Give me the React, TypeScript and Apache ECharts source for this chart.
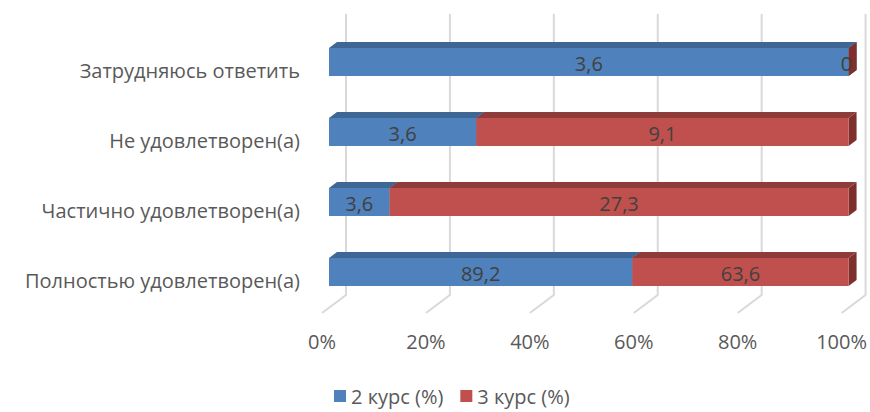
import React, { useEffect, useRef } from "react";
import * as echarts from "echarts";

const categories = [
  "Полностью удовлетворен(а)",
  "Частично удовлетворен(а)",
  "Не удовлетворен(а)",
  "Затрудняюсь ответить",
];
const course2 = [89.2, 3.6, 3.6, 3.6];
const course3 = [63.6, 27.3, 9.1, 0];
const seriesNames = ["2 курс (%)", "3 курс (%)"];
const xTicks = [0, 20, 40, 60, 80, 100];

const FONT = "'Open Sans', 'Noto Sans', sans-serif";
const DX = 8;
const DY = 6;
const BAR_H = 28;
const BAR_SHIFT = 7;

function fmt(v: number) {
  return String(v).replace(".", ",");
}

function buildData(which: number) {
  return categories.map((_, i) => {
    const total = course2[i] + course3[i];
    const p2 = (course2[i] / total) * 100;
    if (which === 0) return [i, 0, p2, course2[i]];
    return [i, p2, 100, course3[i]];
  });
}

const colors = [
  { front: "#4f81bd", top: "#3e6795", side: "#37598a" },
  { front: "#c0504d", top: "#8f3b39", side: "#7f302e" },
];

function makeRender(which: number) {
  return (params: any, api: any) => {
    const cat = api.value(0);
    const s = api.value(1);
    const e = api.value(2);
    const raw = api.value(3);
    const pS = api.coord([s, cat]);
    const pE = api.coord([e, cat]);
    const x0 = pS[0] + BAR_SHIFT;
    const x1 = pE[0] + BAR_SHIFT;
    const yc = pS[1];
    const top = yc - BAR_H / 2;
    const bottom = yc + BAR_H / 2;
    const c = colors[which];
    const labelX = x1 - x0 < 1 ? x0 - 2 : (x0 + x1) / 2;
    return {
      type: "group",
      children: [
        {
          type: "polygon",
          shape: {
            points: [
              [x1, top],
              [x1 + DX, top - DY],
              [x1 + DX, bottom - DY],
              [x1, bottom],
            ],
          },
          style: { fill: c.side },
        },
        {
          type: "rect",
          shape: { x: x0, y: top, width: Math.max(0, x1 - x0), height: BAR_H },
          style: { fill: c.front },
        },
        {
          type: "polygon",
          shape: {
            points: [
              [x0, top],
              [x0 + DX, top - DY],
              [x1 + DX, top - DY],
              [x1, top],
            ],
          },
          style: { fill: c.top },
        },
        {
          type: "text",
          z2: 10,
          style: {
            x: labelX,
            y: yc + 1,
            text: fmt(raw),
            align: "center",
            verticalAlign: "middle",
            fill: "#404040",
            font: `20px ${FONT}`,
          },
        },
      ],
    };
  };
}

function gridRender(params: any, api: any) {
  const v = api.value(0);
  const cs = params.coordSys;
  const x = api.coord([v, 0])[0];
  const bottom = cs.y + cs.height;
  return {
    type: "polyline",
    shape: {
      points: [
        [x + 24, cs.y - 13],
        [x + 24, bottom - 12],
        [x, bottom + 6],
      ],
    },
    style: { stroke: "#d9d9d9", lineWidth: 2, fill: "none" },
    silent: true,
  };
}

export default function App() {
  const ref = useRef<HTMLDivElement>(null);
  useEffect(() => {
    if (!ref.current) return;
    const chart = echarts.init(ref.current, null, { renderer: "svg" });
    chart.setOption({
      animation: false,
      backgroundColor: "#ffffff",
      textStyle: { fontFamily: FONT },
      grid: { left: 322, right: 27, top: 27, height: 280 },
      xAxis: {
        type: "value",
        min: 0,
        max: 100,
        interval: 20,
        axisLine: { show: false },
        axisTick: { show: false },
        splitLine: { show: false },
        axisLabel: {
          formatter: (v: number) => `${v}%`,
          color: "#595959",
          fontSize: 20,
          fontFamily: FONT,
          margin: 24,
        },
      },
      yAxis: {
        type: "category",
        data: categories,
        axisLine: { show: false },
        axisTick: { show: false },
        splitLine: { show: false },
        axisLabel: {
          color: "#595959",
          fontSize: 20,
          fontFamily: FONT,
          margin: 22,
          verticalAlign: "top",
          lineHeight: 16,
        },
      },
      legend: {
        top: 381,
        left: 329,
        itemWidth: 12,
        itemHeight: 12,
        itemGap: 17,
        icon: "rect",
        textStyle: { color: "#595959", fontSize: 20, fontFamily: FONT },
        data: seriesNames,
      },
      series: [
        {
          type: "custom",
          name: "grid",
          silent: true,
          renderItem: gridRender,
          data: xTicks.map((t) => [t]),
          encode: { x: 0 },
          z: 0,
        },
        {
          type: "custom",
          name: seriesNames[0],
          itemStyle: { color: colors[0].front },
          renderItem: makeRender(0),
          data: buildData(0),
          encode: { x: [1, 2], y: 0 },
          z: 2,
        },
        {
          type: "custom",
          name: seriesNames[1],
          itemStyle: { color: colors[1].front },
          renderItem: makeRender(1),
          data: buildData(1),
          encode: { x: [1, 2], y: 0 },
          z: 3,
        },
      ],
    });
    return () => chart.dispose();
  }, []);
  return (
    <div
      ref={ref}
      style={{ position: "fixed", left: 0, top: 0, width: 870, height: 412 }}
    />
  );
}
